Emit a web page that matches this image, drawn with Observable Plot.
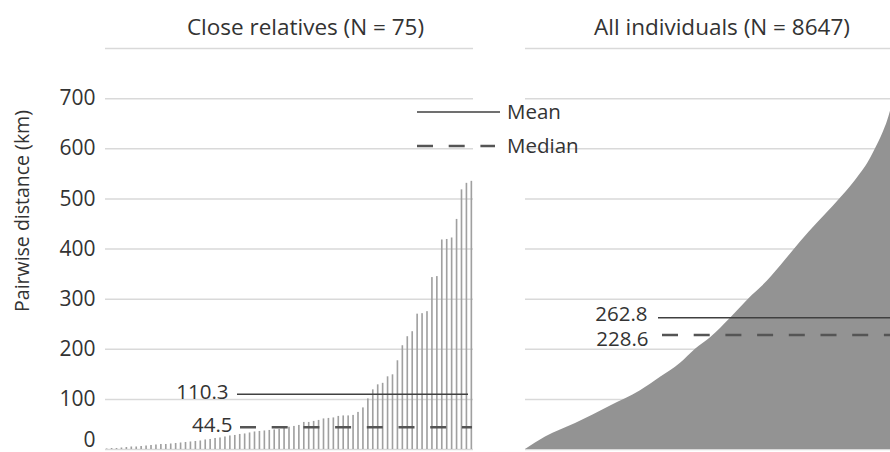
<!DOCTYPE html>
<html>
<head>
<meta charset="utf-8">
<script src="https://cdn.jsdelivr.net/npm/d3@7"></script>
<script src="https://cdn.jsdelivr.net/npm/@observablehq/plot@0.6"></script>
<style>
  html, body { margin: 0; padding: 0; background: #fff; }
  #chart { position: relative; width: 890px; height: 452px; overflow: hidden; font-family: "Open Sans", sans-serif; }
  #chart > svg { position: absolute; left: 0; top: 0; }
</style>
</head>
<body>
<div id="chart"></div>
<script>
// ---- Data ----
const panelTitles = ["Close relatives (N = 75)", "All individuals (N = 8647)"];
const yAxisTitle = "Pairwise distance (km)";
const yGridValues = [0, 100, 200, 300, 400, 500, 600, 700, 800];
const yTickValues = [100, 200, 300, 400, 500, 600, 700];
const yZeroTick = [0];

// Close relatives: 75 sorted pairwise distances (km)
const closeDistances = [
  1, 2, 2, 3, 4, 5, 5, 6, 7, 8,
  9, 10, 10, 11, 12, 13, 14, 15, 16, 17,
  19, 20, 22, 23, 25, 27, 28, 30, 31, 33,
  35, 36, 37, 38, 39, 40, 42, 44.5, 46, 48,
  54, 54, 56, 58, 61, 62, 63, 66, 67, 67,
  68, 74, 83, 101, 119, 129, 132, 145, 149, 177,
  207, 225, 235, 270, 271, 275, 343, 345, 418, 419,
  422, 459, 518, 531, 535
];
const closeMean = 110.3;
const closeMedian = 44.5;

// All individuals: sorted distance curve, read at pair ranks
const allRanks = [0, 474, 1185, 2014, 2724, 3198, 3672, 4027, 4383, 4857, 5283, 5733, 6160, 6515, 6918, 7297, 7699, 7936, 8102, 8244, 8363, 8481, 8576, 8647];
const allDistances = [0, 25, 52, 87, 117, 144, 172, 200, 223, 262, 300, 336, 378, 414, 452, 486, 524, 550, 570, 592, 612, 634, 655, 675];
const allCount = 8647;
const allMean = 262.8;
const allMedian = 228.6;

const legendLabels = ["Mean", "Median"];

// ---- Styles ----
const FONT = "'Open Sans', sans-serif";
const TXT = "#333333";
const GRID = "#d9d9d9";
const MEAN_COLOR = "#404040";
const MEDIAN_COLOR = "#555555";
const DASH = "16,15.7";
const TICK_FS = 21;
const LABEL_FS = 20.5;
const TITLE_FS = 22.5;

const closeData = closeDistances.map((d, i) => ({i, d}));
const allData = allRanks.map((r, k) => ({r, d: allDistances[k]}));

const common = {
  width: 890,
  height: 452,
  marginTop: 48,
  marginBottom: 3,
  y: {domain: [0, 800], axis: null},
  style: {background: "transparent", overflow: "visible", fontFamily: FONT, color: TXT}
};

// Right panel (drawn first, underneath)
const right = Plot.plot({
  ...common,
  marginLeft: 525,
  marginRight: 0,
  x: {domain: [0, allCount], axis: null},
  marks: [
    Plot.gridY(yGridValues, {stroke: GRID, strokeOpacity: 1, strokeWidth: 1.5}),
    Plot.areaY(allData, {x: "r", y: "d", fill: "#939393", curve: "monotone-x"}),
    Plot.ruleY([allMean], {stroke: MEAN_COLOR, strokeWidth: 1.5, insetLeft: 133}),
    Plot.ruleY([allMedian], {stroke: MEDIAN_COLOR, strokeWidth: 2.5, strokeDasharray: DASH, insetLeft: 137}),
    Plot.text([allMean], {y: d => d, text: d => d.toFixed(1), frameAnchor: "left", dx: 122, dy: -3, textAnchor: "end", fontSize: LABEL_FS, fill: TXT}),
    Plot.text([allMedian], {y: d => d, text: d => d.toFixed(1), frameAnchor: "left", dx: 123, dy: 5, textAnchor: "end", fontSize: LABEL_FS, fill: TXT}),
    Plot.text([panelTitles[1]], {frameAnchor: "top", lineAnchor: "middle", dx: 14, dy: -21, fontSize: TITLE_FS, fill: TXT})
  ]
});

// Left panel (on top)
const left = Plot.plot({
  ...common,
  marginLeft: 105,
  marginRight: 417,
  x: {type: "band", domain: d3.range(closeDistances.length), paddingInner: 0.67, paddingOuter: 0.17, axis: null},
  marks: [
    Plot.gridY(yGridValues, {stroke: GRID, strokeOpacity: 1, strokeWidth: 1.5}),
    Plot.barY(closeData, {x: "i", y: "d", fill: "#a0a0a0"}),
    Plot.axisY(yTickValues, {tickSize: 0, tickPadding: 10, fontSize: TICK_FS, label: null, fill: TXT}),
    Plot.axisY(yZeroTick, {tickSize: 0, tickPadding: 10, fontSize: TICK_FS, label: null, dy: -9, fill: TXT}),
    Plot.ruleY([closeMean], {stroke: MEAN_COLOR, strokeWidth: 1.5, insetLeft: 132, insetRight: 5}),
    Plot.ruleY([closeMedian], {stroke: MEDIAN_COLOR, strokeWidth: 2.5, strokeDasharray: DASH, insetLeft: 135, insetRight: 1}),
    Plot.text([closeMean], {y: d => d, text: d => d.toFixed(1), frameAnchor: "left", dx: 123, dy: -2, textAnchor: "end", fontSize: LABEL_FS, fill: TXT}),
    Plot.text([closeMedian], {y: d => d, text: d => d.toFixed(1), frameAnchor: "left", dx: 127, dy: -2, textAnchor: "end", fontSize: LABEL_FS, fill: TXT}),
    Plot.text([panelTitles[0]], {frameAnchor: "top", lineAnchor: "middle", dx: 16, dy: -21, fontSize: TITLE_FS, fill: TXT}),
    Plot.text([yAxisTitle], {frameAnchor: "left", rotate: -90, textAnchor: "middle", dx: -83, dy: -38, fontSize: 19.5, fill: TXT})
  ]
});

const chart = document.getElementById("chart");
chart.appendChild(right);
chart.appendChild(left);

// Legend overlay (Mean / Median line keys)
const legend = d3.select(chart).append("svg")
  .attr("width", 890).attr("height", 452)
  .style("position", "absolute").style("left", "0px").style("top", "0px")
  .style("overflow", "visible");
const legendItems = [
  {label: legendLabels[0], stroke: MEAN_COLOR, width: 1.5, dash: null, x2: 500, y: 112},
  {label: legendLabels[1], stroke: MEDIAN_COLOR, width: 2.5, dash: DASH, x2: 495, y: 146}
];
for (const it of legendItems) {
  legend.append("line").attr("x1", 417).attr("x2", it.x2).attr("y1", it.y).attr("y2", it.y)
    .attr("stroke", it.stroke).attr("stroke-width", it.width).attr("stroke-dasharray", it.dash);
  legend.append("text").attr("x", 507).attr("y", it.y).attr("dy", "0.35em")
    .attr("font-family", FONT).attr("font-size", LABEL_FS).attr("fill", TXT).text(it.label);
}
</script>
</body>
</html>
